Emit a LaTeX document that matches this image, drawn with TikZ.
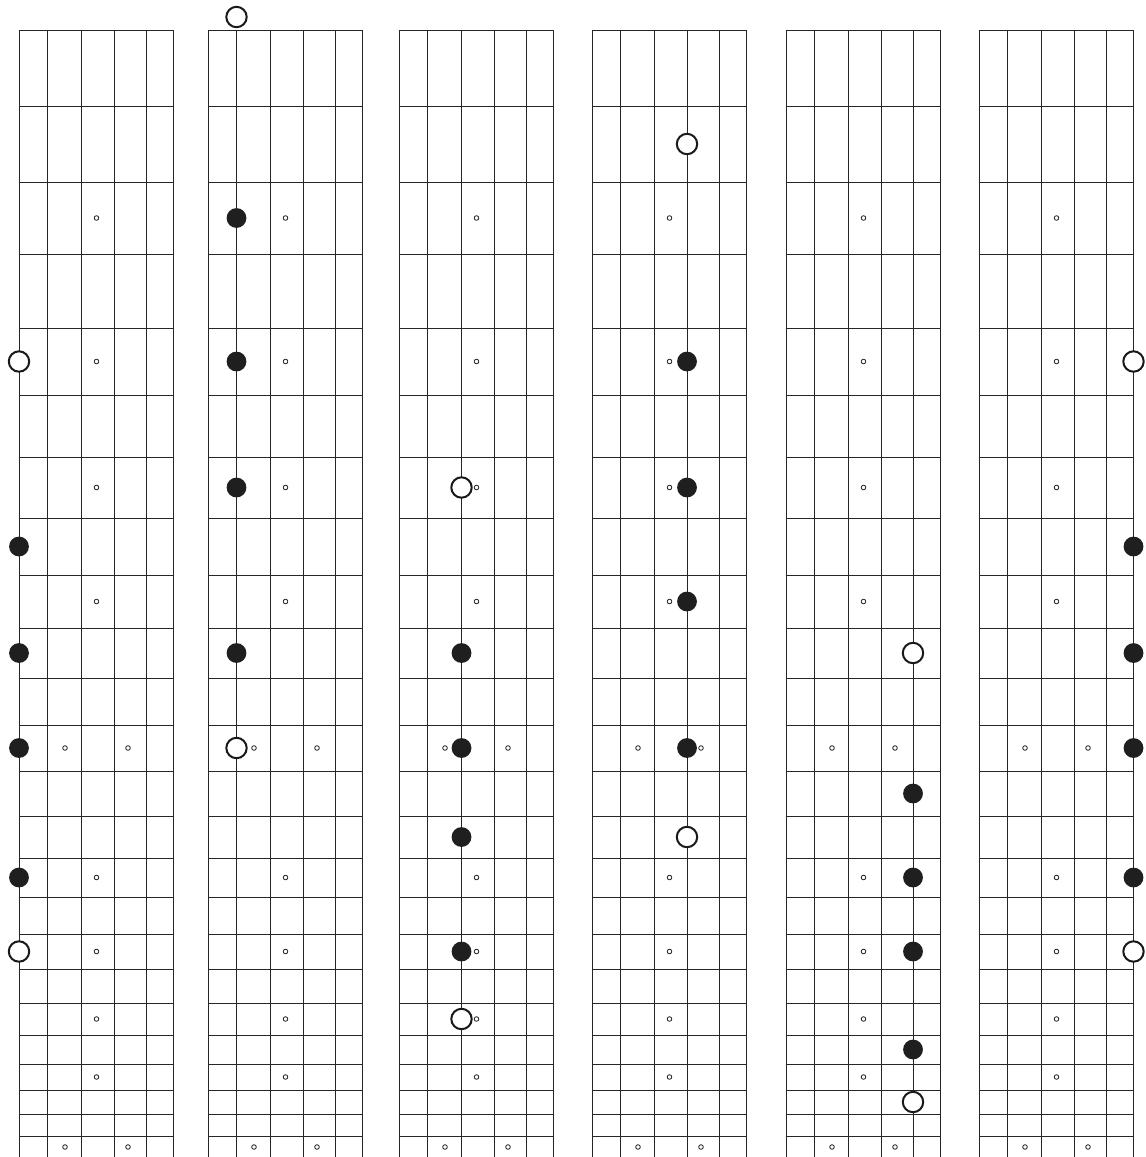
\documentclass[tikz,border=0pt]{standalone}
\usepackage{tikz}

\tikzset{
  gridline/.style={line width=0.75pt, color=black!85},
  inlay/.style={line width=0.8pt, color=black!90},
  rootnote/.style={line width=2pt, color=black!90, fill=white},
  scalenote/.style={fill=black!88},
}
% fret lines (entry 0 = spot for the open string above the nut)
\foreach \y [count=\i from 0] in {4,30,106,182,254,328,395,457,518,575,628,678,725,771,816,858,897,934,969,1003,1035,1064,1090,1114,1136,1158}
  {\expandafter\xdef\csname fy\i\endcsname{\y}}
\newcommand{\fretY}[1]{\csname fy#1\endcsname}

\begin{document}
\begin{tikzpicture}[x=1pt,y=1pt,yscale=-1,xscale=1]
\useasboundingbox (0,0) rectangle (1146,1157);

%Fretboards
\foreach \bx in {19,208,399,592,786,979} {
  % strings
  \foreach \s in {0,28.5,62.5,95,127,154.5}
    \draw[gridline] (\bx+\s,30) -- (\bx+\s,1157);
  % frets
  \foreach \f in {1,...,24}
    \draw[gridline] (\bx-0.4,\fretY{\f}) -- (\bx+154.9,\fretY{\f});
  % inlays
  \foreach \f in {3,5,7,9,15,17,19,21} {
    \pgfmathtruncatemacro\fn{\f+1}
    \pgfmathsetmacro\ym{(\fretY{\f}+\fretY{\fn})/2}
    \draw[inlay] (\bx+77.5,\ym) circle (2.3);
  }
  \foreach \f in {12,24} {
    \pgfmathtruncatemacro\fn{\f+1}
    \pgfmathsetmacro\ym{(\fretY{\f}+\fretY{\fn})/2}
    \draw[inlay] (\bx+46,\ym) circle (2.3);
    \draw[inlay] (\bx+109,\ym) circle (2.3);
  }
}

%Notes: board / string / first root / notes / last root
\foreach \bx/\sx/\fa/\fl/\fb in {19/0/5/{8,10,12,15}/17, 208/28.5/0/{3,5,7,10}/12, 399/62.5/7/{10,12,14,17}/19, 592/95/2/{5,7,9,12}/14, 786/127/10/{13,15,17,20}/22, 979/154.5/5/{8,10,12,15}/17} {
  \foreach \f in \fl {
    \pgfmathtruncatemacro\fn{\f+1}
    \pgfmathsetmacro\ym{(\fretY{\f}+\fretY{\fn})/2}
    \fill[scalenote] (\bx+\sx,\ym) circle (9.9);
  }
  \foreach \f in {\fa,\fb} {
    \pgfmathtruncatemacro\fn{\f+1}
    \pgfmathsetmacro\ym{(\fretY{\f}+\fretY{\fn})/2}
    \draw[rootnote] (\bx+\sx,\ym) circle (10.2);
  }
}
\end{tikzpicture}
\end{document}
